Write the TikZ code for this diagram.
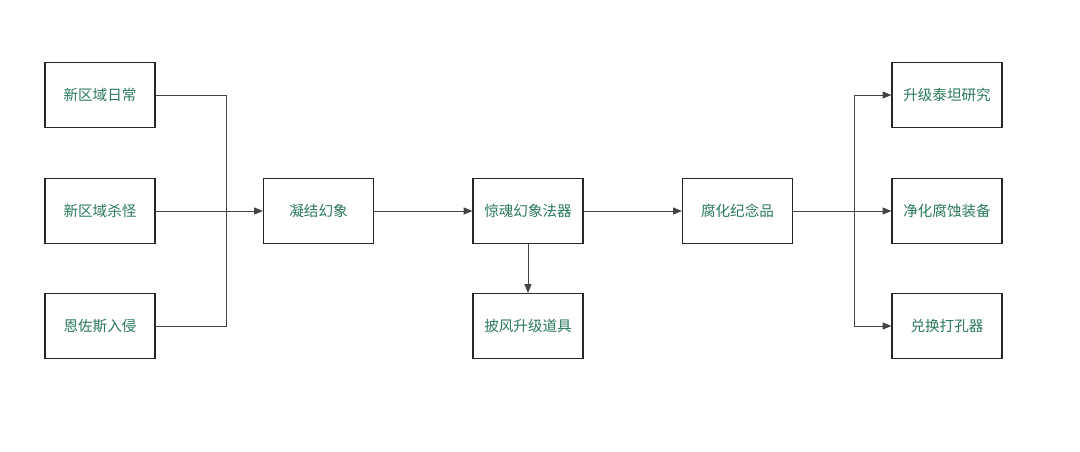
\documentclass[tikz,border=0pt]{standalone}
\usepackage{fontspec}
\newfontfamily\cjk{Noto Sans CJK SC}
\usetikzlibrary{arrows.meta}
\definecolor{txtgreen}{HTML}{2A7A5A}
\definecolor{linegray}{HTML}{444444}

\begin{document}
\begin{tikzpicture}[
  x=0.02cm, y=-0.02cm,
  box/.style={draw=black!85, line width=0.7pt, minimum width=2.2cm, minimum height=1.3cm,
    inner sep=0pt, font=\cjk\fontsize{8.3}{10}\selectfont, text=txtgreen},
  link/.style={draw=linegray, line width=0.5pt},
  flow/.style={link, -{Triangle[length=5pt,width=4pt]}},
]
\useasboundingbox[fill=white] (0,0) rectangle (1080,451);
\node[box] (daily)  at (100,95)  {新区域日常};
\node[box] (kill)   at (100,211) {新区域杀怪};
\node[box] (nzoth)  at (100,326) {恩佐斯入侵};
\node[box] (vision) at (318.5,211) {凝结幻象};
\node[box] (relic)  at (528,211) {惊魂幻象法器};
\node[box] (cloak)  at (528,326) {披风升级道具};
\node[box] (memento) at (737.5,211) {腐化纪念品};
\node[box] (titan)  at (947,95)  {升级泰坦研究};
\node[box] (purify) at (947,211) {净化腐蚀装备};
\node[box] (punch)  at (947,326) {兑换打孔器};
\coordinate (jl) at (226,211);
\coordinate (jr) at (854,211);
% left side merges into one
\draw[link] (daily.east) -| (jl);
\draw[link] (nzoth.east) -| (jl);
\draw[flow] (kill.east) -- (vision.west);
\draw[flow] (vision.east) -- (relic.west);
\draw[flow] (relic.south) -- (cloak.north);
\draw[flow] (relic.east) -- (memento.west);
% right side splits
\draw[flow] (memento.east) -- (purify.west);
\draw[flow] (jr) |- (titan.west);
\draw[flow] (jr) |- (punch.west);
\end{tikzpicture}
\end{document}
